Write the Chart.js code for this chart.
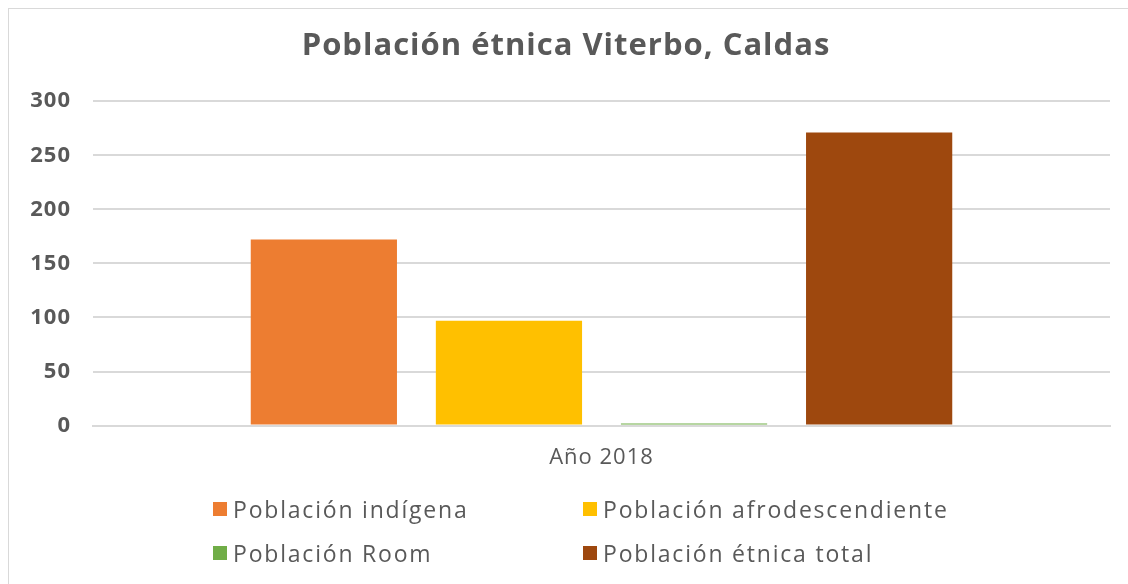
<!DOCTYPE html>
<html lang="es">
    <head>
        <meta charset="UTF-8">
        <style>
            body {
                margin: 0;
                background-color: #ffffff;
            }

            #frame {
                position: absolute;
                top: 8px;
                left: 8px;
                width: 1140px;
                height: 600px;
                border: 1px solid #d9d9d9;
            }

            #chart-container {
                position: absolute;
                top: 0;
                left: 0;
            }

            #legend {
                position: absolute;
                top: 494px;
                left: 213px;
                width: 760px;
                display: grid;
                grid-template-columns: 370px 370px;
                row-gap: 14px;
                font-family: "Open Sans", sans-serif;
                font-size: 23px;
                letter-spacing: 1.8px;
                color: #595959;
            }

            .item {
                display: flex;
                align-items: center;
                height: 30px;
            }

            .box {
                width: 14px;
                height: 14px;
                margin-right: 6px;
            }
        </style>
        <title>Población étnica Viterbo, Caldas</title>
    </head>
    <body>
        <div id="frame"></div>
        <div id="chart-container">
            <canvas id="myChart" width="1128" height="584"></canvas>
        </div>
        <div id="legend"></div>
        <script src="https://cdn.jsdelivr.net/npm/chart.js"></script>
        <script>
            //data
            let categories = ['Año 2018'];
            let seriesNames = ['Población indígena', 'Población afrodescendiente', 'Población Room', 'Población étnica total'];
            let indigena = [172];
            let afro = [97];
            let room = [2];
            let total = [271];
            let seriesColors = ['#ed7d31', '#ffc000', '#70ad47', '#9e480e'];

            let textColor = '#595959';
            let gridColor = '#d9d9d9';

            const data = {
                labels: categories,
                datasets: [indigena, afro, room, total].map((values, i) => ({
                    label: seriesNames[i],
                    data: values,
                    backgroundColor: seriesColors[i],
                    borderWidth: 0,
                    categoryPercentage: 0.728,
                    barPercentage: 0.79
                }))
            };

            //wider letters, closer to the font of the original
            const spacing = {
                id: 'spacing',
                beforeUpdate(chart) {
                    chart.ctx.letterSpacing = '1px';
                },
                beforeDraw(chart) {
                    chart.ctx.letterSpacing = '1px';
                }
            };

            const config = {
                type: 'bar',
                data,
                plugins: [spacing],
                options: {
                    responsive: false,
                    animation: false,
                    layout: {
                        padding: { left: 22, right: 18, top: 0, bottom: 102 }
                    },
                    scales: {
                        y: {
                            min: 0,
                            max: 300,
                            afterFit(scale) {
                                scale.width = 71;       //plot starts at x = 93
                            },
                            ticks: {
                                stepSize: 50,
                                color: textColor,
                                padding: 22,
                                font: { family: 'Open Sans', size: 22, weight: 'bold' }
                            },
                            grid: { color: gridColor, lineWidth: 2, drawTicks: false },
                            border: { display: false }
                        },
                        x: {
                            ticks: {
                                color: textColor,
                                padding: 11,
                                font: { family: 'Open Sans', size: 22 }
                            },
                            grid: { display: false },
                            border: { color: gridColor, width: 2 }
                        }
                    },
                    plugins: {
                        legend: { display: false },
                        tooltip: { enabled: false },
                        title: {
                            display: true,
                            text: 'Población étnica Viterbo, Caldas',
                            color: textColor,
                            font: { family: 'Open Sans', size: 31, weight: 'bold' },
                            padding: { top: 28, bottom: 36 }
                        }
                    }
                }
            };

            const myChart = new Chart(document.getElementById('myChart'), config);

            //legend in two columns like the original
            const legend = document.getElementById('legend');
            myChart.data.datasets.forEach(ds => {
                const item = document.createElement('div');
                item.className = 'item';
                item.innerHTML = '<span class="box" style="background:' + ds.backgroundColor + '"></span>' + ds.label;
                legend.appendChild(item);
            });
        </script>
    </body>
</html>
